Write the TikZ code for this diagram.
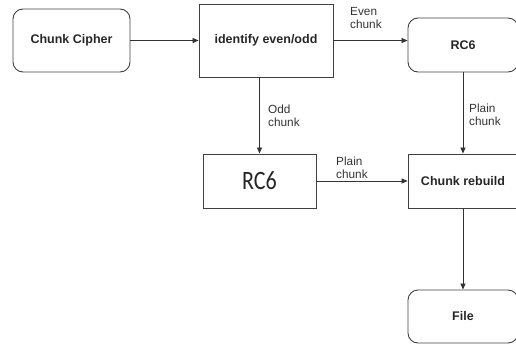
\documentclass[tikz,border=0pt]{standalone}
\usepackage{fontspec}
\setmainfont{Liberation Sans}
\newfontfamily\rcfont{Carlito}
\usetikzlibrary{arrows.meta}
\begin{document}
\begin{tikzpicture}[x=1pt,y=-1pt,
  box/.style={draw=black!75, line width=0.9pt, minimum width=113pt, minimum height=54pt,
    inner sep=0pt, font=\fontsize{12.5}{14}\selectfont\bfseries, text=black!85},
  rbox/.style={box, rounded corners=10pt},
  flow/.style={draw=black!80, line width=0.8pt, -{Triangle[length=6pt,width=5pt]}},
  lbl/.style={font=\fontsize{11.8}{12.5}\selectfont, text=black!80, align=left,
    anchor=west, inner sep=0pt}]
  \useasboundingbox (0,0) rectangle (516,345);
  \clip (0,0) rectangle (516,345);

  % process boxes
  \node[rbox, minimum width=117pt, minimum height=63pt] (cipher) at (71.5,40.5) {Chunk Cipher};
  \node[box, minimum width=134pt, minimum height=73pt] (ident) at (266,40.5) {identify even/odd};
  \node[rbox, minimum width=110pt] (rcr) at (463,45) {RC6};
  \node[box] (rcl) at (259.5,181) {\scalebox{0.88}[1.06]{\rcfont\mdseries\fontsize{25}{28}\selectfont RC6}};
  \node[box, minimum width=110pt] (rebuild) at (463,181) {Chunk rebuild};
  \node[rbox, minimum width=110pt, minimum height=53pt] (file) at (463,316.5) {File};

  % connectors
  \draw[flow] (cipher.east) -- (ident.west);
  \draw[flow] (ident.east) -- (ident.east -| rcr.west);
  \draw[flow] (rcl.north |- ident.south) -- (rcl.north);
  \draw[flow] (rcr.south) -- (rebuild.north);
  \draw[flow] (rcl.east) -- (rebuild.west);
  \draw[flow] (rebuild.south) -- (file.north);

  % connector labels
  \node[lbl] (levn) at (350,18) {Even\\chunk};
  \node[lbl] (lodd) at (268,116) {Odd\\chunk};
  \node[lbl] (lpv) at (469,115) {Plain\\chunk};
  \node[lbl] (lph) at (336,168) {Plain\\chunk};
\end{tikzpicture}
\end{document}
